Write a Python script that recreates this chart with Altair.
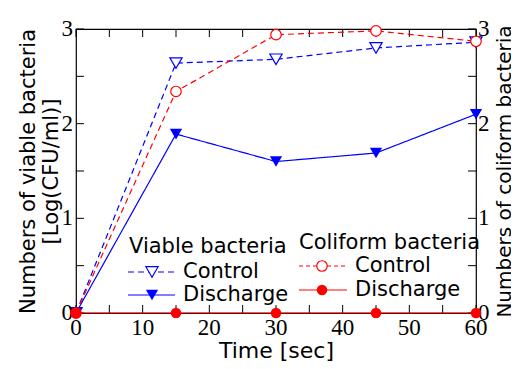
import altair as alt
import pandas as pd

time = [0, 15, 30, 45, 60]
viable_control = [0, 2.64, 2.68, 2.80, 2.86]
viable_discharge = [0, 1.89, 1.60, 1.69, 2.10]
coliform_control = [0, 2.34, 2.94, 2.98, 2.87]
coliform_discharge = [0, 0, 0, 0, 0]

x_ticks_major = [0, 10, 20, 30, 40, 50, 60]
x_ticks_minor = [0, 5, 10, 15, 20, 25, 30, 35, 40, 45, 50, 55, 60]
y_ticks_major = [0, 1, 2, 3]
y_ticks_minor = [0, 0.5, 1, 1.5, 2, 2.5, 3]

BLUE = "#0000ff"
RED = "#ff0000"
SANS = "DejaVu Sans"
SERIF = "Liberation Serif, DejaVu Serif, serif"
W, H, TS = 400, 284, 8

def df(vals):
    return pd.DataFrame({"t": time, "v": vals})

xsc = alt.Scale(domain=[0, 60], nice=False, zero=False)
ysc = alt.Scale(domain=[0, 3], nice=False, zero=False)

ax_bottom = alt.Axis(orient="bottom", values=x_ticks_major, labels=False, title="Time [sec]",
                     titlePadding=27, titleFontSize=22)
ax_left = alt.Axis(orient="left", values=y_ticks_major, labels=False,
                   title=["Numbers of viable bacteria", "[Log(CFU/ml)]"], titleLineHeight=23,
                   titlePadding=15)
ax_right = alt.Axis(orient="right", values=y_ticks_major, labels=False,
                    title="Numbers of coliform bacteria", titleAngle=270, titleFontSize=20,
                    titleBaseline="top", titlePadding=18)

def series(vals, color, dash, shape, filled, yaxis, size):
    d = df(vals)
    enc_x = alt.X("t:Q", scale=xsc, axis=ax_bottom)
    enc_y = alt.Y("v:Q", scale=ysc, axis=yaxis)
    line = alt.Chart(d).mark_line(color=color, strokeWidth=1.2, strokeDash=dash).encode(x=enc_x, y=enc_y)
    pts = alt.Chart(d).mark_point(shape=shape, size=size, color=color, filled=filled,
                                  fill=color if filled else "white", opacity=1,
                                  strokeWidth=1.2).encode(x=enc_x, y=enc_y)
    return [line, pts]

xt = pd.DataFrame({"t": x_ticks_minor})
yt = pd.DataFrame({"v": y_ticks_minor})
xl = pd.DataFrame({"t": x_ticks_major, "lab": [str(v) for v in x_ticks_major]})
yl = pd.DataFrame({"v": y_ticks_major, "lab": [str(v) for v in y_ticks_major]})

def lab_text(d, **kw):
    return alt.Chart(d).mark_text(font=SERIF, fontSize=23, color="black", **kw)

tick_layers = [
    alt.Chart(xt).mark_rule(color="black", strokeWidth=1).encode(
        x=alt.X("t:Q", scale=xsc, axis=ax_bottom), y=alt.value(H), y2=alt.value(H - TS)),
    alt.Chart(xt).mark_rule(color="black", strokeWidth=1).encode(
        x=alt.X("t:Q", scale=xsc, axis=ax_bottom), y=alt.value(0), y2=alt.value(TS)),
    alt.Chart(yt).mark_rule(color="black", strokeWidth=1).encode(
        y=alt.Y("v:Q", scale=ysc, axis=ax_left), x=alt.value(0), x2=alt.value(TS)),
    alt.Chart(yt).mark_rule(color="black", strokeWidth=1).encode(
        y=alt.Y("v:Q", scale=ysc, axis=ax_left), x=alt.value(W), x2=alt.value(W - TS)),
    lab_text(xl, align="center", baseline="top").encode(
        x=alt.X("t:Q", scale=xsc, axis=ax_bottom), y=alt.value(H + 4), text="lab:N"),
    lab_text(yl, align="right", baseline="middle").encode(
        y=alt.Y("v:Q", scale=ysc, axis=ax_left), x=alt.value(-3), text="lab:N"),
    lab_text(yl, align="left", baseline="middle").encode(
        y=alt.Y("v:Q", scale=ysc, axis=ax_left), x=alt.value(W + 2), text="lab:N"),
]

left = alt.layer(
    *series(viable_control, BLUE, [6, 4], "triangle-down", False, ax_left, 150),
    *series(viable_discharge, BLUE, [1, 0], "triangle-down", True, ax_left, 150),
    *tick_layers,
)
right = alt.layer(
    *series(coliform_control, RED, [6, 4], "circle", False, ax_right, 110),
    *series(coliform_discharge, RED, [1, 0], "circle", True, ax_right, 110),
)

one = alt.Data(values=[{}])
LFS = 21

def ltext(txt, x, y):
    return alt.Chart(one).mark_text(text=txt, font=SANS, fontSize=LFS, align="left",
                                    baseline="middle", color="black").encode(
        x=alt.value(x), y=alt.value(y))

def lline(x1, x2, y, color, dash):
    return alt.Chart(one).mark_rule(color=color, strokeWidth=1.2, strokeDash=dash).encode(
        x=alt.value(x1), x2=alt.value(x2), y=alt.value(y))

def lpt(x, y, color, shape, filled, size):
    return alt.Chart(one).mark_point(shape=shape, size=size, color=color, filled=filled,
                                     fill=color if filled else "white", opacity=1,
                                     strokeWidth=1.2).encode(x=alt.value(x), y=alt.value(y))

legend = alt.layer(
    ltext("Viable bacteria", 53, 218),
    lline(52, 99, 243, BLUE, [6, 4]), lpt(76, 243, BLUE, "triangle-down", False, 150),
    ltext("Control", 107, 243),
    lline(52, 99, 266, BLUE, [1, 0]), lpt(76, 266, BLUE, "triangle-down", True, 150),
    ltext("Discharge", 107, 266),
    ltext("Coliform bacteria", 223, 214),
    lline(223, 271, 237, RED, [4, 3]), lpt(246, 237, RED, "circle", False, 110),
    ltext("Control", 279, 237),
    lline(223, 271, 261, RED, [1, 0]), lpt(246, 261, RED, "circle", True, 110),
    ltext("Discharge", 279, 261),
)

chart = alt.layer(left, right, legend).resolve_scale(y="independent").properties(
    width=W, height=H,
    autosize=alt.AutoSizeParams(type="none"),
    padding={"left": 68, "top": 21, "right": 35, "bottom": 49},
    background="white",
).configure_view(stroke="black", strokeWidth=1.2).configure_axis(
    ticks=False, domain=False, grid=False,
    titleFont=SANS, titleFontSize=21, titleFontWeight="normal", titleColor="black",
)

chart.save("out.html", embed_options={"renderer": "svg", "actions": False})
